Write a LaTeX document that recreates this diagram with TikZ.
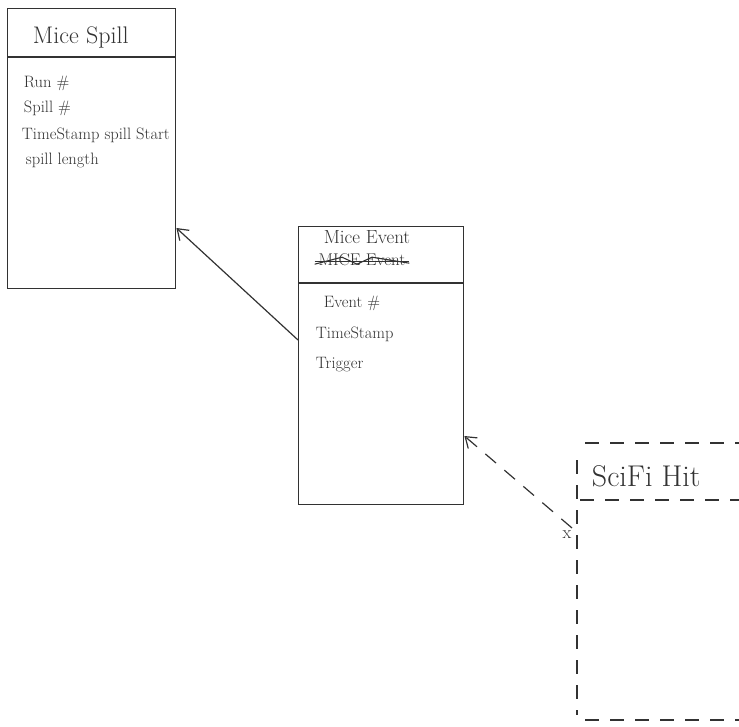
\documentclass[tikz,border=0pt]{standalone}
\usepackage{tikz}
\usetikzlibrary{arrows.meta}
\definecolor{inkgray}{RGB}{50,50,50}
\begin{document}
\begin{tikzpicture}[x=1pt, y=-1pt, line width=1.2pt, inkgray,
    classbox/.style={draw=inkgray, line width=1.4pt, anchor=north west, inner sep=0pt},
    classname/.style={font=\fontsize{24}{26}\selectfont, anchor=base west},
    attrtext/.style={font=\fontsize{16.5}{18}\selectfont, anchor=base west},
    hitdash/.style={dash pattern=on 14pt off 11pt}]
		% Page frame, same proportions as the sheet
		\useasboundingbox (0,0) rectangle (739,727);

		% Mice Spill class with its header line
		\node[classbox, minimum width=168pt, minimum height=280pt] (spill) at (7,8) {};
		\draw (7,57) -- (175,57);  % header divider
		\node[classname] (spillname) at (29,44) {Mice Spill};
		\node[attrtext] (runno) at (20,88) {Run \#};
		\node[attrtext] (spillno) at (20,113) {Spill \#};
		\node[attrtext] (spillstart) at (18,140) {TimeStamp spill Start};
		\node[attrtext] (spilllength) at (22,165) {spill length};

		% Mice Event class with its header line
		\node[classbox, minimum width=165pt, minimum height=278pt] (event) at (298,226) {};
		\draw (298,283) -- (463,283);  % header divider
		\node[font=\fontsize{19}{21}\selectfont, anchor=base] (eventname) at (367,244) {Mice Event};
		\node[font=\fontsize{17}{19}\selectfont, anchor=base] (oldname) at (362,266) {MICE Event};
		% scribble over the old name
		\draw[line width=1.1pt] ([yshift=-1pt]oldname.west) -- ([yshift=-1pt]oldname.east);
		\draw[line width=1.1pt] ([yshift=-4pt]oldname.west) -- ([xshift=-20pt,yshift=3pt]oldname.center)
		  -- ([xshift=-5pt,yshift=-4pt]oldname.center) -- ([xshift=10pt,yshift=3pt]oldname.center)
		  -- ([yshift=-3pt]oldname.east);
		\node[attrtext] (eventno) at (320,308) {Event \#};
		\node[attrtext] (eventstamp) at (312,338) {TimeStamp};
		\node[attrtext] (trigger) at (312,368) {Trigger};

		% SciFi Hit class, dashed, running off the right edge
		\draw[hitdash] (585,443) -- (739,443);
		\draw[hitdash] (580,500) -- (739,500);  % header divider
		\draw[hitdash] (585,720) -- (739,720);
		\draw[hitdash] (577,460) -- (577,715);
		\node[font=\fontsize{30}{32}\selectfont, anchor=base west] (hitname) at (588,486) {SciFi Hit};

		% Connectors
		\coordinate (eventleft) at (event.west |- 0,340);
		\coordinate (spillright) at (spill.east |- 0,228);
		\coordinate (hitleft) at (572,528);
		\coordinate (eventright) at (event.east |- 0,436);
		\draw[-{Straight Barb[length=10pt, width=14pt]}] (eventleft) -- (spillright);
		\draw[hitdash, -{Straight Barb[length=10pt, width=14pt]}] (hitleft) -- (eventright);
		\node[font=\fontsize{18}{20}\selectfont] (mult) at (567,535) {x};
\end{tikzpicture}
\end{document}
